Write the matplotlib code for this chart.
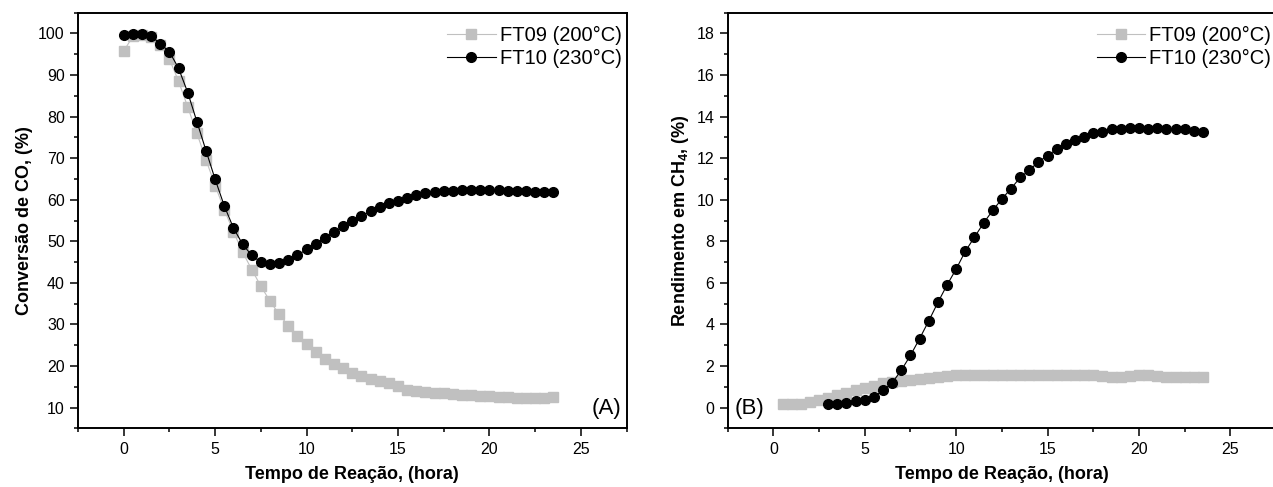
import matplotlib
matplotlib.use("Agg")
import matplotlib.pyplot as plt
from matplotlib.ticker import MultipleLocator

plt.rcParams["font.family"] = ["Liberation Sans", "DejaVu Sans"]
plt.rcParams["mathtext.fontset"] = "custom"
plt.rcParams["mathtext.bf"] = "Liberation Sans:bold"
plt.rcParams["mathtext.rm"] = "Liberation Sans"

# Dados - painel (A): conversão de CO
tempo_a = [0, 0.5, 1, 1.5, 2, 2.5, 3, 3.5, 4, 4.5, 5, 5.5, 6, 6.5, 7, 7.5,
           8, 8.5, 9, 9.5, 10, 10.5, 11, 11.5, 12, 12.5, 13, 13.5, 14, 14.5,
           15, 15.5, 16, 16.5, 17, 17.5, 18, 18.5, 19, 19.5, 20, 20.5, 21,
           21.5, 22, 22.5, 23, 23.5]
conv_ft09 = [95.8, 99.3, 99.6, 99.2, 97.2, 93.8, 88.5, 82.3, 76.0, 69.6, 63.4,
             57.6, 52.3, 47.4, 43.2, 39.2, 35.6, 32.4, 29.7, 27.3, 25.2, 23.3,
             21.6, 20.4, 19.4, 18.4, 17.5, 16.9, 16.3, 15.8, 15.2, 14.3, 14.0,
             13.8, 13.6, 13.4, 13.2, 13.1, 12.9, 12.8, 12.8, 12.6, 12.5, 12.4,
             12.4, 12.4, 12.4, 12.5]
conv_ft10 = [99.7, 99.8, 99.8, 99.4, 97.5, 95.6, 91.6, 85.8, 78.8, 71.8, 64.9,
             58.5, 53.2, 49.3, 46.6, 45.0, 44.5, 44.7, 45.4, 46.6, 48.1, 49.4,
             50.9, 52.2, 53.6, 55.0, 56.1, 57.2, 58.2, 59.1, 59.8, 60.5, 61.1,
             61.5, 61.8, 62.1, 62.2, 62.3, 62.4, 62.4, 62.4, 62.3, 62.2, 62.0,
             62.0, 61.9, 61.8, 61.8]

# Dados - painel (B): rendimento em CH4
tempo_b09 = [0.5, 1, 1.5, 2, 2.5, 3, 3.5, 4, 4.5, 5, 5.5, 6, 6.5, 7, 7.5, 8,
             8.5, 9, 9.5, 10, 10.5, 11, 11.5, 12, 12.5, 13, 13.5, 14, 14.5,
             15, 15.5, 16, 16.5, 17, 17.5, 18, 18.5, 19, 19.5, 20, 20.5, 21,
             21.5, 22, 22.5, 23, 23.5]
ch4_ft09 = [0.15, 0.18, 0.19, 0.27, 0.35, 0.47, 0.58, 0.71, 0.82, 0.92, 1.03,
            1.16, 1.24, 1.27, 1.32, 1.35, 1.40, 1.45, 1.51, 1.55, 1.55, 1.55,
            1.55, 1.56, 1.56, 1.56, 1.56, 1.56, 1.56, 1.56, 1.56, 1.56, 1.56,
            1.57, 1.56, 1.51, 1.48, 1.48, 1.51, 1.55, 1.55, 1.52, 1.48, 1.48,
            1.48, 1.48, 1.48]
tempo_b10 = [3, 3.5, 4, 4.5, 5, 5.5, 6, 6.5, 7, 7.5, 8, 8.5, 9, 9.5, 10, 10.5,
             11, 11.5, 12, 12.5, 13, 13.5, 14, 14.5, 15, 15.5, 16, 16.5, 17,
             17.5, 18, 18.5, 19, 19.5, 20, 20.5, 21, 21.5, 22, 22.5, 23, 23.5]
ch4_ft10 = [0.15, 0.19, 0.22, 0.30, 0.34, 0.52, 0.82, 1.19, 1.80, 2.51, 3.32,
            4.17, 5.06, 5.90, 6.67, 7.52, 8.20, 8.88, 9.49, 10.04, 10.54,
            11.07, 11.42, 11.83, 12.12, 12.44, 12.67, 12.89, 13.00, 13.20,
            13.26, 13.39, 13.39, 13.44, 13.47, 13.42, 13.44, 13.42, 13.39,
            13.39, 13.33, 13.28]

rotulos = ["FT09 (200°C)", "FT10 (230°C)"]
CINZA = "#c0c0c0"


# Estilo comum dos eixos (caixa fechada, ticks para fora)
def estilo_eixo(ax):
    for s in ax.spines.values():
        s.set_linewidth(1.4)
    ax.tick_params(which="both", direction="out", width=1.1, labelsize=11.5,
                   top=False, right=False)
    ax.tick_params(which="major", length=6)
    ax.tick_params(which="minor", length=3)
    ax.xaxis.set_major_locator(MultipleLocator(5))
    ax.xaxis.set_minor_locator(MultipleLocator(2.5))
    ax.set_xlim(-2.5, 27.5)
    ax.set_xlabel("Tempo de Reação, (hora)", fontsize=13, fontweight="bold",
                  labelpad=7)
    ax.legend(loc="upper right", bbox_to_anchor=(1.0, 0.98), frameon=False,
              fontsize=14.5, handlelength=2.4, handletextpad=0.2,
              labelspacing=0.2, borderaxespad=0.1, borderpad=0.15)


def serie(ax, x, y, tipo):
    if tipo == 0:
        ax.plot(x, y, color=CINZA, lw=0.8, marker="s", ms=6.5,
                mec=CINZA, mfc=CINZA, label=rotulos[0])
    else:
        ax.plot(x, y, color="black", lw=0.8, marker="o", ms=7,
                mec="black", mfc="black", label=rotulos[1])


fig = plt.figure(figsize=(12.73, 4.87), dpi=100)
ax1 = fig.add_axes([0.0613, 0.1205, 0.4309, 0.8534])
ax2 = fig.add_axes([0.5716, 0.1205, 0.4309, 0.8534])

# Painel (A)
serie(ax1, tempo_a, conv_ft09, 0)
serie(ax1, tempo_a, conv_ft10, 1)
ax1.set_ylim(5, 105)
ax1.yaxis.set_major_locator(MultipleLocator(10))
ax1.yaxis.set_minor_locator(MultipleLocator(5))
ax1.set_ylabel("Conversão de CO, (%)", fontsize=13, fontweight="bold")
estilo_eixo(ax1)
ax1.text(0.99, 0.034, "(A)", transform=ax1.transAxes, fontsize=16,
         ha="right", va="baseline")

# Painel (B)
serie(ax2, tempo_b09, ch4_ft09, 0)
serie(ax2, tempo_b10, ch4_ft10, 1)
ax2.set_ylim(-1, 19)
ax2.yaxis.set_major_locator(MultipleLocator(2))
ax2.yaxis.set_minor_locator(MultipleLocator(1))
ax2.set_ylabel(r"Rendimento em CH$_{\mathbf{4}}$, (%)", fontsize=13,
               fontweight="bold")
estilo_eixo(ax2)
ax2.text(0.0135, 0.034, "(B)", transform=ax2.transAxes, fontsize=16,
         ha="left", va="baseline")

fig.savefig("out.png", dpi=100)
